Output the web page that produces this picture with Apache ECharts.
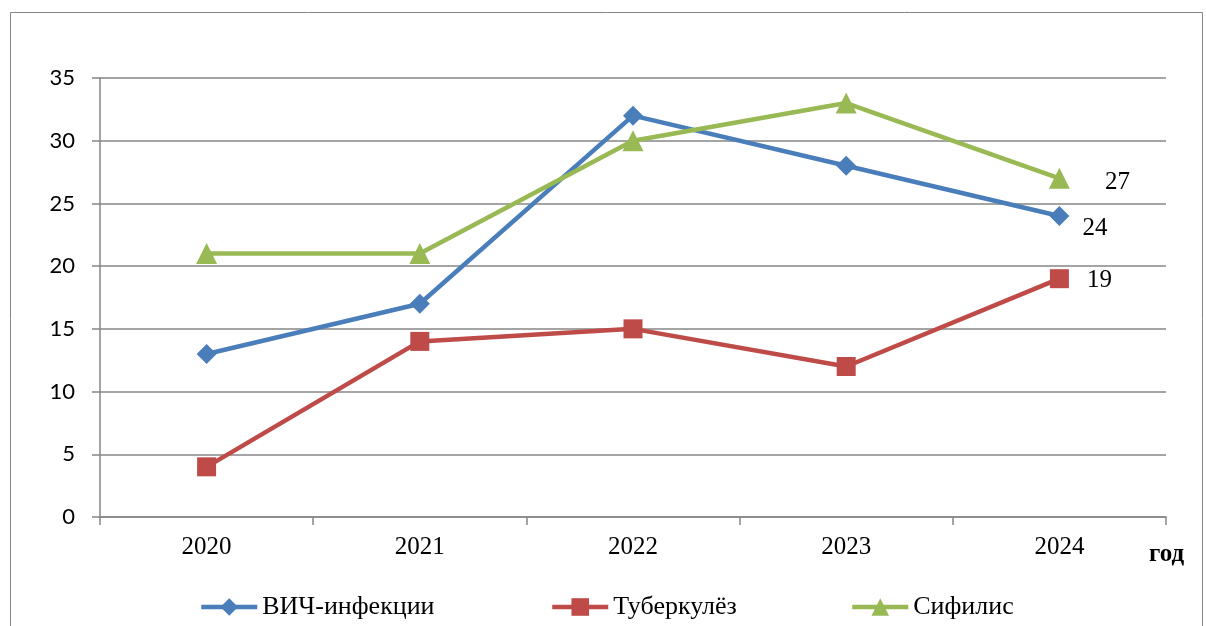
<!DOCTYPE html>
<html><head><meta charset="utf-8">
<script src="https://cdn.jsdelivr.net/npm/echarts@6/dist/echarts.min.js"></script>
<style>html,body{margin:0;padding:0;background:#fff}#c{width:1206px;height:626px}</style>
</head><body><div id="c"></div>
<script>
const categories = ['2020','2021','2022','2023','2024'];
const hiv = [13, 17, 32, 28, 24];
const tb = [4, 14, 15, 12, 19];
const syph = [21, 21, 30, 33, 27];
const seriesNames = ['ВИЧ-инфекции','Туберкулёз','Сифилис'];

const chart = echarts.init(document.getElementById('c'));
function lastLabel(arr, offset){
  return arr.map((v,i)=> i===arr.length-1 ? {value:v, label:{show:true, position:'right', offset:offset, formatter:'{c}', fontFamily:'Liberation Serif', fontSize:25, color:'#000'}} : v);
}
const axisColor = '#868686';
const legendText = {fontFamily:'Liberation Serif', fontSize:26, color:'#000'};
function lg(name, left){
  return {data:[name], left:left, top:589, itemWidth:56, itemHeight:22, itemGap:0,
    lineStyle:{width:4.5}, textStyle:legendText};
}
chart.setOption({
  animation:false,
  grid:{left:100, right:40, top:78, bottom:109},
  graphic:[
    {type:'rect', shape:{x:10.5,y:12.5,width:1192,height:640}, style:{fill:'none', stroke:axisColor, lineWidth:1}, z:-1},
    {type:'text', left:1149, top:542, style:{text:'год', font:'bold 25px "Liberation Serif"', fill:'#000'}}
  ],
  legend:[ lg(seriesNames[0],194), lg(seriesNames[1],545), lg(seriesNames[2],845) ],
  xAxis:{type:'category', data:categories, boundaryGap:true,
    axisLine:{lineStyle:{color:axisColor, width:1.5}},
    axisTick:{show:true, length:8, lineStyle:{color:axisColor, width:1.5}},
    axisLabel:{fontFamily:'Liberation Serif', fontSize:25, color:'#000', margin:18}},
  yAxis:{type:'value', min:0, max:35, interval:5,
    axisLine:{show:true, lineStyle:{color:axisColor, width:1.5}},
    axisTick:{show:true, length:8, lineStyle:{color:axisColor, width:1.5}},
    splitLine:{lineStyle:{color:axisColor, width:1.5}},
    axisLabel:{fontFamily:'Lato', fontSize:22, color:'#000', margin:25}},
  series:[
    {name:seriesNames[0], type:'line', data:lastLabel(hiv,[8,12]), symbol:'diamond', symbolSize:20,
      lineStyle:{color:'#4A7EBB', width:4.5}, itemStyle:{color:'#4A7EBB'}, z:3},
    {name:seriesNames[1], type:'line', data:lastLabel(tb,[13,2]), symbol:'rect', symbolSize:19,
      lineStyle:{color:'#BE4B48', width:4.5}, itemStyle:{color:'#BE4B48'}, z:2},
    {name:seriesNames[2], type:'line', data:lastLabel(syph,[30,4]), symbol:'triangle', symbolSize:21,
      lineStyle:{color:'#98B954', width:4.5}, itemStyle:{color:'#98B954'}, z:4}
  ]
});
</script></body></html>
